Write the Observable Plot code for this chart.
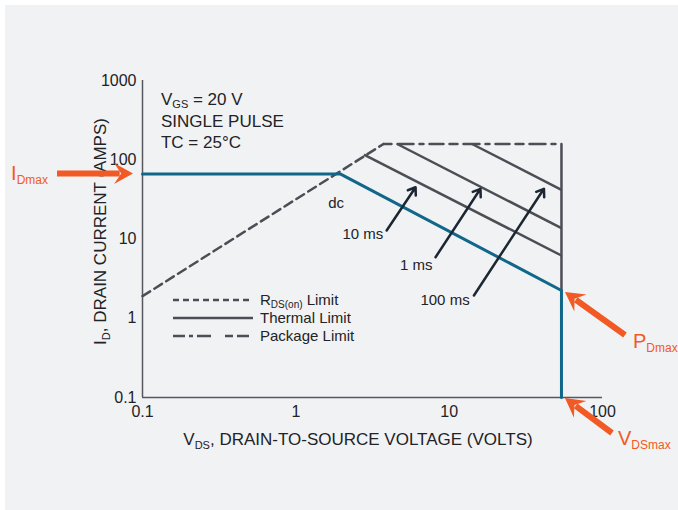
<!DOCTYPE html>
<html><head><meta charset="utf-8">
<script src="https://cdn.jsdelivr.net/npm/d3@7"></script>
<script src="https://cdn.jsdelivr.net/npm/@observablehq/plot@0.6"></script>
<style>
html,body{margin:0;padding:0;background:#fff;}
#wrap{position:relative;width:678px;height:510px;overflow:hidden;}
#panel{position:absolute;left:5px;top:5px;right:0;bottom:0;background:#f1f2f4;}
#chart{position:absolute;left:0;top:0;}
</style></head><body>
<div id="wrap"><div id="panel"></div><div id="chart"></div></div>
<script>
// ---- data ----
const xTicks = [0.1, 1, 10, 100];
const yTicks = [0.1, 1, 10, 100, 1000];
const IDmax = 66;              // A, package current limit (teal flat)
const kneeV = 1.96;            // V, where IDmax meets the dc power line
const VDSmax = 54;             // V, vertical boundary (on the drawn scale)
const PDmaxCurrent = 2.24;     // A, dc line at VDSmax
const rdsV = [0.1, 3.73];
const rdsI = [1.9, 158];
const packageV = [3.73, 54];
const packageI = 158;
const thermalLabels = ["10 ms", "1 ms", "100 ms"];
const thermalV1 = [2.78, 4.58, 14.1];
const thermalI1 = [116, 158, 158];
const thermalI2 = [6.19, 13.7, 41.8];
const arrowV1 = [3.91, 8.15, 14.5];
const arrowI1 = [12.8, 5.89, 1.94];
const arrowV2 = [6.04, 16.0, 41.5];
const arrowI2 = [45.0, 43.0, 43.0];
const labelV = [3.72, 7.8, 13.6];
const labelI = [11.4, 4.63, 1.675];
const dcText = ["dc"];
const dcV = [1.83];
const dcI = [28];
const conditionV = 0.133;
const conditionI = [575, 304, 165];
const conditions = [[["V", 0], ["GS", 1], [" = 20 V", 0]], [["SINGLE PULSE", 0]], [["TC = 25°C", 0]]];
const legendItems = [
  {parts: [["R", 0], ["DS(on)", 1], [" Limit", 0]], dash: "6,4"},
  {parts: [["Thermal Limit", 0]], dash: null},
  {parts: [["Package Limit", 0]], dash: "12,4,4,4,14,14,8,4"}
];

// ---- styles ----
const teal = "#10678a";
const gray = "#4b4e55";
const navy = "#1c2733";
const orange = "#f15a24";
const ink = "#222326";
const font = "'Liberation Sans', Arial, Helvetica, sans-serif";

const rds = rdsV.map((v, i) => ({v, i: rdsI[i]}));
const pkg = packageV.map(v => ({v, i: packageI}));
const edge = [{v: VDSmax, i: packageI}, {v: VDSmax, i: PDmaxCurrent}];
const thermal = thermalLabels.map((l, k) => ({label: l, v1: thermalV1[k], i1: thermalI1[k], v2: VDSmax, i2: thermalI2[k]}));
const soa = [{v: 0.1, i: IDmax}, {v: kneeV, i: IDmax}, {v: VDSmax, i: PDmaxCurrent}, {v: VDSmax, i: 0.1}];
const pointers = thermalLabels.map((l, k) => ({label: l, x1: arrowV1[k], y1: arrowI1[k], x2: arrowV2[k], y2: arrowI2[k], lx: labelV[k], ly: labelI[k]}));
const dc = dcText.map((t, k) => ({t, v: dcV[k], i: dcI[k]}));

const plot = Plot.plot({
  width: 678, height: 510,
  marginLeft: 142, marginRight: 76, marginTop: 80, marginBottom: 113,
  style: {background: "transparent", fontFamily: font, color: ink, overflow: "visible"},
  x: {type: "log", domain: [0.1, 100], label: null},
  y: {type: "log", domain: [0.1, 1000], label: null},
  marks: [
    Plot.axisX({ticks: xTicks, tickSize: 0, tickPadding: 8, fontSize: 16, tickFormat: d => String(d), label: null, fill: ink}),
    Plot.axisY({ticks: yTicks, tickSize: 0, tickPadding: 6, fontSize: 16, tickFormat: d => String(d), label: null, fill: ink}),
    Plot.ruleX([0.1], {stroke: "#55595f", strokeWidth: 1.5}),
    Plot.ruleY([0.1], {stroke: "#55595f", strokeWidth: 1.5}),
    Plot.line(rds, {x: "v", y: "i", stroke: gray, strokeWidth: 2.5, strokeDasharray: "9,5"}),
    Plot.line(pkg, {x: "v", y: "i", stroke: gray, strokeWidth: 2.5, strokeDasharray: "8,6,16,6,4,6,14,6"}),
    Plot.line(edge, {x: "v", y: "i", stroke: gray, strokeWidth: 2.5}),
    Plot.link(thermal, {x1: "v1", y1: "i1", x2: "v2", y2: "i2", stroke: gray, strokeWidth: 2.5}),
    Plot.line(soa, {x: "v", y: "i", stroke: teal, strokeWidth: 3}),
    Plot.arrow(pointers, {x1: "x1", y1: "y1", x2: "x2", y2: "y2", stroke: navy, strokeWidth: 2.5, headLength: 5, headAngle: 70}),
    Plot.text(pointers, {x: "lx", y: "ly", text: "label", textAnchor: "end", fontSize: 15, fill: ink}),
    Plot.text(dc, {x: "v", y: "i", text: "t", fontSize: 15, fill: ink})
  ]
});
document.getElementById("chart").append(plot);

// ---- overlay: texts with subscripts, legend, orange call-outs ----
const X = plot.scale("x"), Y = plot.scale("y");
const sx = v => X.apply(v), sy = v => Y.apply(v);
const svg = d3.select(plot);
const ov = svg.append("g").attr("font-family", font);

function rich(g, x, y, parts, o) {
  const t = g.append("text").attr("x", x).attr("y", y)
    .attr("fill", o.fill || ink).attr("font-size", o.size)
    .attr("text-anchor", o.anchor || "start");
  if (o.transform) t.attr("transform", o.transform);
  let sub = false;
  parts.forEach(([s, isSub]) => {
    const ts = t.append("tspan").text(s);
    if (isSub && !sub) ts.attr("font-size", o.subSize).attr("dy", o.subDy);
    else if (!isSub && sub) ts.attr("dy", -o.subDy);
    sub = !!isSub;
  });
  return t;
}

// condition block
conditions.forEach((parts, k) => {
  rich(ov, sx(conditionV), sy(conditionI[k]) + 6, parts, {size: 17, subSize: 11, subDy: 3});
});

// axis titles
const [x0, x1] = X.range, [y0, y1] = Y.range;
rich(ov, (x0 + x1) / 2 - 14, y0 + 48,
  [["V", 0], ["DS", 1], [", DRAIN-TO-SOURCE VOLTAGE (VOLTS)", 0]],
  {size: 17, subSize: 11, subDy: 4, anchor: "middle"});
rich(ov, 0, 0,
  [["I", 0], ["D", 1], [", DRAIN CURRENT (AMPS)", 0]],
  {size: 17, subSize: 11, subDy: 4, anchor: "middle", transform: `translate(${x0 - 36},${(y0 + y1) / 2 - 7}) rotate(-90)`});

// legend
legendItems.forEach((it, k) => {
  const ly = y0 - 97 + k * 18;
  const lx = x0 + 31;
  ov.append("line").attr("x1", lx).attr("x2", lx + 80).attr("y1", ly).attr("y2", ly)
    .attr("stroke", gray).attr("stroke-width", 2.5).attr("stroke-dasharray", it.dash);
  rich(ov, lx + 87, ly + 5, it.parts, {size: 15, subSize: 10, subDy: 3});
});

// orange call-outs
function fatArrow(tx, ty, fx, fy) {
  const dx = tx - fx, dy = ty - fy, L = Math.hypot(dx, dy);
  const ux = dx / L, uy = dy / L, px = -uy, py = ux;
  const hl = 19, hw = 10.5;
  ov.append("line").attr("x1", fx).attr("y1", fy)
    .attr("x2", tx - ux * hl * 0.7).attr("y2", ty - uy * hl * 0.7)
    .attr("stroke", orange).attr("stroke-width", 6);
  const pts = [[tx, ty],
    [tx - ux * hl + px * hw, ty - uy * hl + py * hw],
    [tx - ux * hl * 0.62, ty - uy * hl * 0.62],
    [tx - ux * hl - px * hw, ty - uy * hl - py * hw]];
  ov.append("polygon").attr("points", pts.map(p => p.join(",")).join(" ")).attr("fill", orange);
}
// I_Dmax
const iT = [sx(0.1) - 9, sy(IDmax)];
fatArrow(iT[0], iT[1], iT[0] - 76, iT[1]);
rich(ov, iT[0] - 85, iT[1] + 6, [["I", 0], ["Dmax", 1]], {size: 20, subSize: 12, subDy: 4, anchor: "end", fill: orange});
// P_Dmax
const pT = [sx(VDSmax) + 4, sy(PDmaxCurrent) + 2];
fatArrow(pT[0], pT[1], pT[0] + 60, pT[1] + 43);
rich(ov, pT[0] + 68, pT[1] + 56, [["P", 0], ["Dmax", 1]], {size: 20, subSize: 12, subDy: 4, fill: orange});
// V_DSmax
const vT = [sx(VDSmax) + 4, sy(0.1) + 1];
fatArrow(vT[0], vT[1], vT[0] + 47, vT[1] + 35);
rich(ov, vT[0] + 53, vT[1] + 47, [["V", 0], ["DSmax", 1]], {size: 20, subSize: 12, subDy: 4, fill: orange});
</script>
</body></html>
